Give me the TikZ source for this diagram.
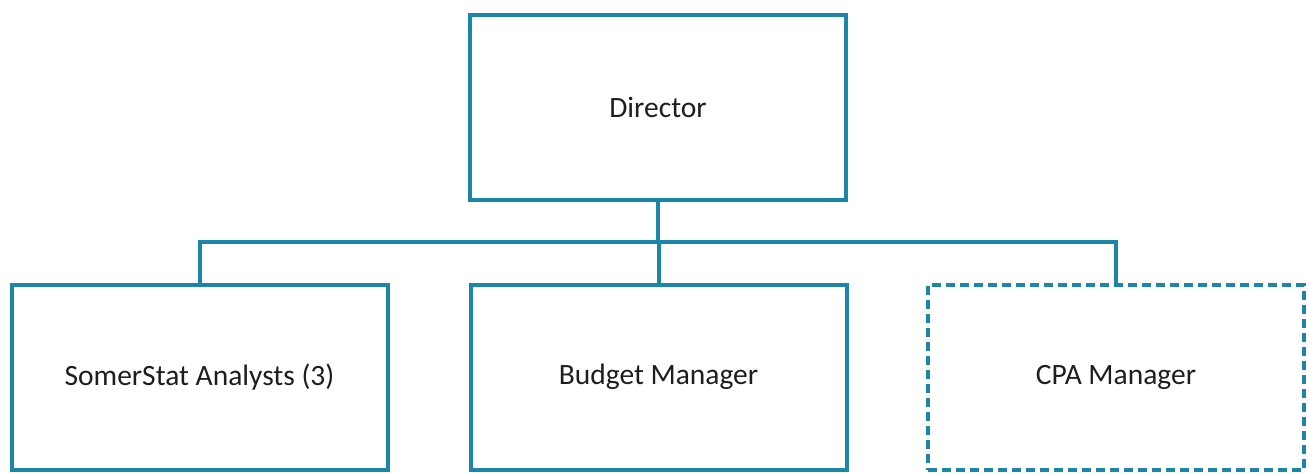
\documentclass[tikz,border=0pt]{standalone}
\usepackage{fontspec}
\setmainfont{Carlito}
\definecolor{teal1}{RGB}{28,134,170}
\definecolor{txt}{RGB}{30,30,30}
\begin{document}
\begin{tikzpicture}[x=1pt,y=1pt,
  box/.style={draw=teal1,line width=4pt,minimum width=376pt,minimum height=185pt,inner sep=0pt,text=txt,font=\fontsize{29.5}{34}\selectfont},
  dashbox/.style={box,dash pattern=on 9pt off 5pt},
  conn/.style={draw=teal1,line width=4pt}]
\useasboundingbox (0,0) rectangle (1307,-472);
\node[box] (dir) at (658,-107.5) {Director};
\node[box] (ana) at (199.5,-377) {SomerStat Analysts (3)};
\node[box] (bud) at (658.5,-377) {Budget Manager};
\node[dashbox] (cpa) at (1116,-377) {CPA Manager};
\coordinate (bus) at (658,-242);
\draw[conn] (dir.south) -- (bus);
\draw[conn] (ana.north) |- (bus) -| (cpa.north);
\draw[conn] (bud.north) -- (bud.north |- bus);
\end{tikzpicture}
\end{document}
